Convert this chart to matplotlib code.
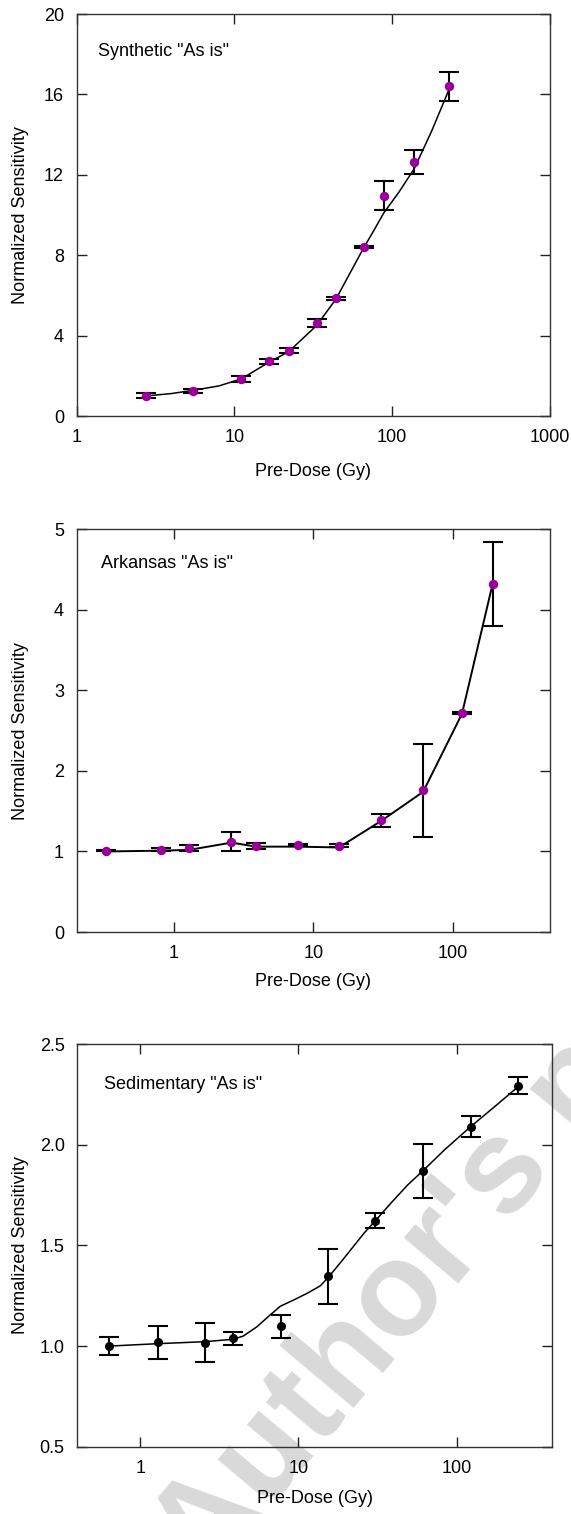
import matplotlib
matplotlib.use("Agg")
import matplotlib.pyplot as plt
import numpy as np

plt.rcParams['font.family'] = ['Liberation Sans', 'DejaVu Sans']
plt.rcParams['font.size'] = 13

PURPLE = '#990099'

# Synthetic "As is"
syn_dose = [2.76, 5.5, 11.1, 16.6, 22.1, 33.2, 44.1, 66.4, 88.5, 138, 231]
syn_sens = [1.02, 1.27, 1.84, 2.72, 3.25, 4.63, 5.85, 8.42, 10.96, 12.62, 16.40]
syn_err = [0.14, 0.10, 0.15, 0.14, 0.13, 0.22, 0.06, 0.06, 0.72, 0.60, 0.74]
syn_fit_dose = [2.76, 4.0, 5.5, 8.0, 11.1, 16.6, 22.1, 33.2, 44.1, 54.0, 66.4,
                76.2, 88.5, 110.7, 138, 178.6, 231]
syn_fit_sens = [1.0, 1.12, 1.28, 1.5, 1.85, 2.68, 3.2, 4.5, 5.82, 7.1, 8.4,
                9.2, 10.1, 11.15, 12.3, 14.2, 16.3]

# Arkansas "As is"
ark_dose = [0.323, 0.81, 1.29, 2.59, 3.89, 7.72, 15.3, 30.8, 61.5, 117, 194]
ark_sens = [1.01, 1.02, 1.04, 1.12, 1.07, 1.08, 1.07, 1.39, 1.76, 2.72, 4.32]
ark_err = [0.01, 0.02, 0.04, 0.12, 0.04, 0.01, 0.02, 0.08, 0.58, 0.01, 0.52]
ark_line = [1.0, 1.01, 1.02, 1.11, 1.06, 1.06, 1.05, 1.38, 1.74, 2.71, 4.32]

# Sedimentary "As is"
sed_dose = [0.636, 1.29, 2.57, 3.87, 7.74, 15.4, 30.6, 61.5, 123, 246]
sed_sens = [1.002, 1.019, 1.017, 1.039, 1.098, 1.348, 1.623, 1.870, 2.091, 2.295]
sed_err = [0.045, 0.083, 0.097, 0.032, 0.057, 0.137, 0.036, 0.133, 0.053, 0.04]
sed_fit_dose = [0.636, 1.29, 2.57, 3.88, 4.49, 5.47, 6.64, 7.69, 9.5, 11.35, 13.8,
                15.6, 19.4, 26.0, 31.0, 38.4, 49.1, 62.0, 83.8, 122.5, 174, 245]
sed_fit_sens = [1.0, 1.012, 1.022, 1.034, 1.05, 1.096, 1.155, 1.198, 1.232, 1.262, 1.300,
                1.345, 1.436, 1.561, 1.627, 1.710, 1.801, 1.875, 1.975, 2.090, 2.190, 2.289]

fig = plt.figure(figsize=(5.71, 15.14), dpi=100)

# watermark behind the panels
fig.text(206 / 571, 1 - 1585 / 1514, "Author's personal copy", fontsize=96,
         fontweight='bold', color='#d9d9d9', rotation=50, rotation_mode='anchor',
         ha='left', va='baseline', zorder=-1)


def style_axes(ax, xlim, ylim, yticks, ylabels, xticks, xlabels):
    ax.set_xscale('log')
    ax.set_xlim(*xlim)
    ax.set_ylim(*ylim)
    ax.set_yticks(yticks)
    ax.set_yticklabels(ylabels)
    ax.set_xticks(xticks)
    ax.set_xticklabels(xlabels)
    ax.minorticks_off()
    ax.tick_params(direction='in', length=7, width=1, top=True, right=True,
                   colors='#222222', labelcolor='black')
    ax.tick_params(axis='x', pad=9.5)
    ax.tick_params(axis='y', pad=9)
    for s in ax.spines.values():
        s.set_color('#333333')
        s.set_linewidth(1.0)
    ax.patch.set_alpha(0)
    ax.set_xlabel("Pre-Dose (Gy)")
    ax.set_ylabel("Normalized Sensitivity")


eb_kw = dict(fmt='none', ecolor='black', elinewidth=1.5, capsize=7, capthick=1.5, zorder=2)

# panel 1
ax1 = fig.add_axes([0.134, 0.7252, 0.829, 0.2655])
ax1.plot(syn_fit_dose, syn_fit_sens, color='black', lw=1.1, zorder=1)
ax1.errorbar(syn_dose, syn_sens, yerr=syn_err, **eb_kw)
ax1.plot(syn_dose, syn_sens, 'o', color=PURPLE, ms=6.8, mec='none', zorder=3)
style_axes(ax1, (1, 1000), (0, 20), [0, 4, 8, 12, 16, 20],
           ['0', '4', '8', '12', '16', '20'],
           [1, 10, 100, 1000], ['1', '10', '100', '1000'])
ax1.text(0.045, 0.908, 'Synthetic "As is"', transform=ax1.transAxes, va='center')
ax1.xaxis.set_label_coords(0.5, -0.117)
ax1.yaxis.set_label_coords(-0.101, 0.5)

# panel 2
ax2 = fig.add_axes([0.134, 0.3844, 0.829, 0.266])
ax2.plot(ark_dose, ark_line, color='black', lw=1.4, zorder=1)
ax2.errorbar(ark_dose, ark_sens, yerr=ark_err, **eb_kw)
ax2.plot(ark_dose, ark_sens, 'o', color=PURPLE, ms=6.8, mec='none', zorder=3)
style_axes(ax2, (0.2, 500), (0, 5), [0, 1, 2, 3, 4, 5],
           ['0', '1', '2', '3', '4', '5'],
           [1, 10, 100], ['1', '10', '100'])
ax2.text(0.052, 0.9156, 'Arkansas "As is"', transform=ax2.transAxes, va='center')
ax2.xaxis.set_label_coords(0.5, -0.102)
ax2.yaxis.set_label_coords(-0.101, 0.5)

# panel 3
ax3 = fig.add_axes([0.1352, 0.04445, 0.8312, 0.2658])
ax3.plot(sed_fit_dose, sed_fit_sens, color='black', lw=1.1, zorder=1)
ax3.errorbar(sed_dose, sed_sens, yerr=sed_err, **eb_kw)
ax3.plot(sed_dose, sed_sens, 'o', color='black', ms=6.5, mec='none', zorder=3)
style_axes(ax3, (0.4, 400), (0.5, 2.5), [0.5, 1.0, 1.5, 2.0, 2.5],
           ['0.5', '1.0', '1.5', '2.0', '2.5'],
           [1, 10, 100], ['1', '10', '100'])
ax3.text(0.056, 0.899, 'Sedimentary "As is"', transform=ax3.transAxes, va='center')
ax3.xaxis.set_label_coords(0.5, -0.108)
ax3.yaxis.set_label_coords(-0.101, 0.5)

fig.savefig('out.png', dpi=100)
